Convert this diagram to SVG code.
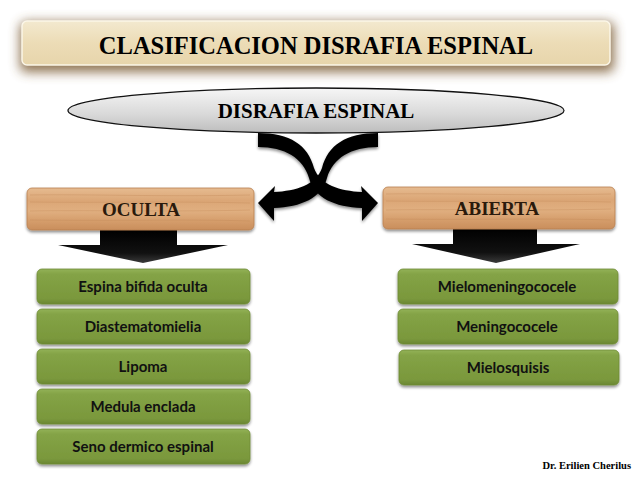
<svg xmlns="http://www.w3.org/2000/svg" width="638" height="479" viewBox="0 0 638 479">
<defs>
<linearGradient id="gold" x1="0" y1="0" x2="0" y2="1">
<stop offset="0" stop-color="#f3e9cf"/><stop offset="0.5" stop-color="#ecdcb6"/><stop offset="1" stop-color="#e7d5ab"/>
</linearGradient>
<linearGradient id="ell" x1="0" y1="0" x2="0" y2="1">
<stop offset="0" stop-color="#f6f6f6"/><stop offset="0.6" stop-color="#d8d8d8"/><stop offset="1" stop-color="#bdbdbd"/>
</linearGradient>
<linearGradient id="wood" x1="0" y1="0" x2="0" y2="1">
<stop offset="0" stop-color="#e6bb90"/><stop offset="0.3" stop-color="#dba676"/><stop offset="0.55" stop-color="#e0af80"/><stop offset="0.8" stop-color="#d49c6a"/><stop offset="1" stop-color="#c98e5c"/>
</linearGradient>
<linearGradient id="green" x1="0" y1="0" x2="0" y2="1">
<stop offset="0" stop-color="#93b257"/><stop offset="0.15" stop-color="#84a346"/><stop offset="0.85" stop-color="#7a983c"/><stop offset="1" stop-color="#6a8632"/>
</linearGradient>
<linearGradient id="blk" x1="0" y1="0" x2="0" y2="1">
<stop offset="0" stop-color="#000"/><stop offset="0.7" stop-color="#111"/><stop offset="1" stop-color="#3a3a3a"/>
</linearGradient>
<filter id="sh" x="-10%" y="-30%" width="120%" height="170%">
<feGaussianBlur in="SourceAlpha" stdDeviation="1.5"/><feOffset dx="0" dy="2"/>
<feComponentTransfer><feFuncA type="linear" slope="0.45"/></feComponentTransfer>
<feMerge><feMergeNode/><feMergeNode in="SourceGraphic"/></feMerge>
</filter>
<filter id="blur" x="-10%" y="-50%" width="120%" height="200%">
<feGaussianBlur stdDeviation="6"/>
</filter>
</defs>
<style>
.t1{font-family:"Liberation Serif",serif;font-weight:bold;fill:#000}
.wt{font-family:"Liberation Serif",serif;font-weight:bold;font-size:19px;fill:#2a1a0c}
.gt{font-family:Lato,"Liberation Sans",sans-serif;font-weight:bold;font-size:15px;fill:#111}
.gbox{fill:url(#green);stroke:#6f8c35;stroke-width:0.8}
.wbox{fill:url(#wood);stroke:#b98050;stroke-width:0.8}
.grain{stroke:#c08553;stroke-width:0.6;opacity:0.55;fill:none}
</style>
<rect width="638" height="479" fill="#fff"/>

<g id="title">
<rect x="20" y="22" width="594" height="50" rx="6" fill="#7a5a30" filter="url(#blur)" opacity="0.85"/>
<rect x="22" y="21" width="588" height="44" rx="5" fill="url(#gold)" stroke="#fbf6e8" stroke-width="1.5"/>
<text class="t1" x="316" y="54" font-size="24.5" text-anchor="middle">CLASIFICACION DISRAFIA ESPINAL</text>
</g>

<g id="connectors">
<path d="M258,133 C290,133 308,145 314,168 C320,185 340,191 362,192 L361,186 L378,203 L362,221 L362,208 C335,207 314,198 309,178 C303,158 285,147 258,147 Z" fill="#000" filter="url(#sh)"/>
<path d="M378,133 C346,133 328,145 322,168 C316,185 296,191 274,192 L275,186 L258,203 L274,221 L274,208 C301,207 322,198 327,178 C333,158 351,147 378,147 Z" fill="#000" filter="url(#sh)"/>
<circle cx="318" cy="173" r="1.2" fill="#fff"/>
<path d="M100,230 L177,230 L177,245 L228,245 L143,263 L58,245 L100,245 Z" fill="url(#blk)"/>
<path d="M453,228 L537,228 L537,244 L580,244 L496,263 L412,244 L453,244 Z" fill="url(#blk)"/>
</g>

<g id="root">
<ellipse cx="316" cy="110.5" rx="248" ry="22.5" fill="url(#ell)" stroke="#111" stroke-width="1.3"/>
<text class="t1" x="316" y="118" font-size="21" text-anchor="middle">DISRAFIA ESPINAL</text>
</g>

<g id="oculta">
<rect x="27" y="188" width="227" height="42" rx="5" class="wbox" filter="url(#sh)"/>
<path class="grain" d="M30,195 C90,194 160,197 250,195 M30,202 C100,203 170,201 250,203 M30,211 C80,210 180,212 250,210 M30,220 C120,221 190,219 250,221"/>
<text class="wt" x="141" y="216" text-anchor="middle">OCULTA</text>
</g>

<g id="abierta">
<rect x="383" y="187" width="232" height="42" rx="5" class="wbox" filter="url(#sh)"/>
<path class="grain" d="M386,194 C450,193 520,196 611,194 M386,201 C460,202 530,200 611,202 M386,210 C440,209 540,211 611,209 M386,219 C480,220 550,218 611,220"/>
<text class="wt" x="497" y="215" text-anchor="middle">ABIERTA</text>
</g>

<g id="n-espina"><rect x="37" y="269" width="213" height="35" rx="5" class="gbox" filter="url(#sh)"/><text class="gt" x="143" y="292" text-anchor="middle">Espina bifida oculta</text></g>
<g id="n-diaste"><rect x="37" y="309" width="213" height="35" rx="5" class="gbox" filter="url(#sh)"/><text class="gt" x="143" y="332" text-anchor="middle">Diastematomielia</text></g>
<g id="n-lipoma"><rect x="37" y="349" width="213" height="35" rx="5" class="gbox" filter="url(#sh)"/><text class="gt" x="143" y="372" text-anchor="middle">Lipoma</text></g>
<g id="n-medula"><rect x="37" y="389" width="213" height="35" rx="5" class="gbox" filter="url(#sh)"/><text class="gt" x="143" y="412" text-anchor="middle">Medula enclada</text></g>
<g id="n-seno"><rect x="37" y="429" width="213" height="35" rx="5" class="gbox" filter="url(#sh)"/><text class="gt" x="143" y="452" text-anchor="middle">Seno dermico espinal</text></g>

<g id="n-mielomen"><rect x="398" y="269" width="220" height="35" rx="5" class="gbox" filter="url(#sh)"/><text class="gt" x="507" y="292" text-anchor="middle">Mielomeningococele</text></g>
<g id="n-mening"><rect x="398" y="309" width="220" height="35" rx="5" class="gbox" filter="url(#sh)"/><text class="gt" x="507" y="332" text-anchor="middle">Meningococele</text></g>
<g id="n-mielosq"><rect x="399" y="350" width="220" height="35" rx="5" class="gbox" filter="url(#sh)"/><text class="gt" x="508" y="373" text-anchor="middle">Mielosquisis</text></g>

<text class="t1" x="631" y="469" font-size="10.5" text-anchor="end" fill="#222">Dr. Erilien Cherilus</text>
</svg>
